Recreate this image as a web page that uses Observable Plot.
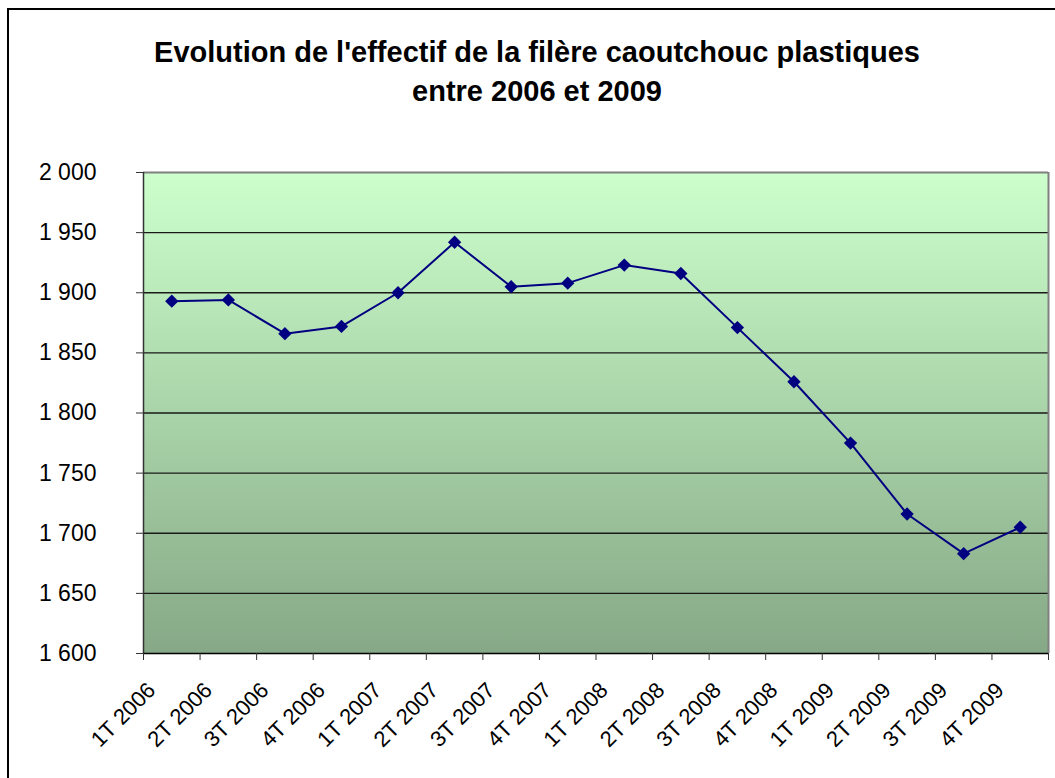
<!DOCTYPE html>
<html><head><meta charset="utf-8">
<script src="https://cdn.jsdelivr.net/npm/d3@7"></script>
<script src="https://cdn.jsdelivr.net/npm/@observablehq/plot@0.6"></script>
<style>
body{margin:0;background:#fff;overflow:hidden;font-family:"Liberation Sans",Arial,sans-serif;}
#wrap{position:relative;width:1055px;height:778px;overflow:hidden;}
#frame{position:absolute;left:7px;top:8px;width:1100px;height:820px;border:2px solid #000;box-sizing:border-box;pointer-events:none;}
#title{height:120px;text-align:center;font-weight:bold;font-size:29px;line-height:39px;padding-top:33px;box-sizing:border-box;padding-left:19px;color:#000;white-space:nowrap;}
#chart svg{display:block;}
</style></head>
<body>
<div id="wrap">
  <div id="title">Evolution de l'effectif de la filère caoutchouc plastiques<br>entre 2006 et 2009</div>
  <div id="chart"></div>
  <div id="frame"></div>
</div>
<script>
const quarters = ["1T 2006","2T 2006","3T 2006","4T 2006","1T 2007","2T 2007","3T 2007","4T 2007",
                  "1T 2008","2T 2008","3T 2008","4T 2008","1T 2009","2T 2009","3T 2009","4T 2009"];
const effectif = [1893, 1894, 1866, 1872, 1900, 1942, 1905, 1908, 1923, 1916, 1871, 1826, 1775, 1716, 1683, 1705];
const yTicks = [1600, 1650, 1700, 1750, 1800, 1850, 1900, 1950, 2000];

const W = 1055, H = 658, mL = 143, mR = 7, mT = 52, mB = 125;
const step = (W - mL - mR) / quarters.length;
const data = quarters.map((q, i) => ({q, v: effectif[i]}));
const fmt = d3.formatLocale({decimal: ",", thousands: " ", grouping: [3], currency: ["", "€"]}).format(",");

const background = (index, scales, values, dims) => {
  const g = d3.create("svg:g");
  const grad = g.append("defs").append("linearGradient")
    .attr("id", "bgGrad").attr("x1", 0).attr("y1", 0).attr("x2", 0).attr("y2", 1);
  grad.append("stop").attr("offset", "0%").attr("stop-color", "#CCFFCC");
  grad.append("stop").attr("offset", "100%").attr("stop-color", "#86A886");
  g.append("rect")
    .attr("x", dims.marginLeft).attr("y", dims.marginTop)
    .attr("width", dims.width - dims.marginLeft - dims.marginRight)
    .attr("height", dims.height - dims.marginTop - dims.marginBottom)
    .attr("fill", "url(#bgGrad)");
  return g.node();
};

const chart = Plot.plot({
  width: W, height: H,
  marginLeft: mL, marginRight: mR, marginTop: mT, marginBottom: mB,
  style: {fontFamily: "'Liberation Sans', Arial, sans-serif", color: "#000", background: "transparent", overflow: "visible"},
  x: {type: "point", domain: quarters, padding: 0.5, align: 0.5, round: false, axis: null},
  y: {domain: [1600, 2000], axis: null},
  marks: [
    background,
    Plot.ruleY(yTicks.slice(1, -1), {stroke: "#1a1a1a", strokeWidth: 1.3}),
    Plot.ruleY([2000], {stroke: "#808080", strokeWidth: 2}),
    Plot.ruleX([quarters[quarters.length - 1]], {dx: step / 2, stroke: "#808080", strokeWidth: 2}),
    Plot.ruleX([quarters[0]], {dx: -step / 2, stroke: "#333", strokeWidth: 1.5}),
    Plot.ruleY([1600], {stroke: "#000", strokeWidth: 1.5}),
    Plot.axisY({ticks: yTicks, tickSize: 7, tickPadding: 40, tickFormat: fmt, fontSize: 23, stroke: "#333", label: null}),
    Plot.axisX({ticks: quarters, tickSize: 7, tickFormat: () => "", dx: -step / 2, stroke: "#333", label: null}),
    Plot.axisX({ticks: [quarters[quarters.length - 1]], tickSize: 7, tickFormat: () => "", dx: step / 2, stroke: "#333", label: null}),
    Plot.text(quarters, {x: d => d, frameAnchor: "bottom", rotate: -45, textAnchor: "end", lineAnchor: "bottom",
                         dx: -15, dy: 38, fontSize: 22, fill: "#000"}),
    Plot.line(data, {x: "q", y: "v", stroke: "#000080", strokeWidth: 2}),
    Plot.dot(data, {x: "q", y: "v", symbol: "diamond2", r: 6, fill: "#000080", stroke: "none"})
  ]
});
document.getElementById("chart").appendChild(chart);
</script>
</body></html>
